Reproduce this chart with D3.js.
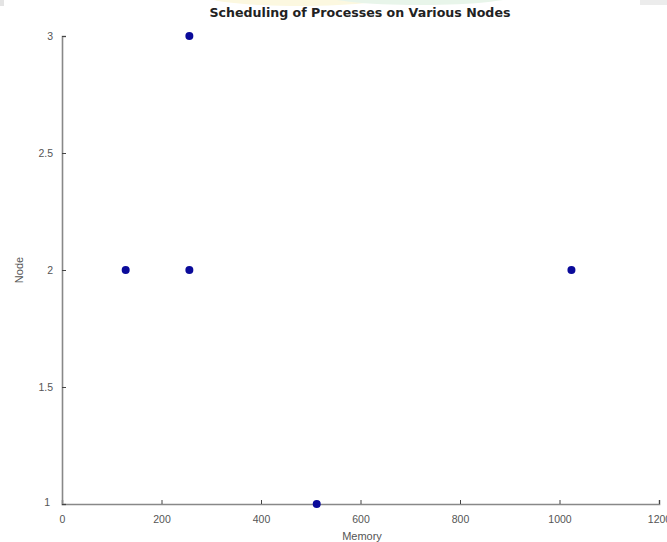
<!DOCTYPE html>
<html><head><meta charset="utf-8">
<script src="https://cdn.jsdelivr.net/npm/d3@7"></script>
<style>body{margin:0;background:#fff}svg{display:block}</style>
</head><body>
<script>
const memory = [128, 256, 256, 512, 1024];
const node = [2, 2, 3, 1, 2];
const xTicks = [0, 200, 400, 600, 800, 1000, 1200];
const yTicks = [1, 1.5, 2, 2.5, 3];

const W = 667, H = 542;
const m = {l: 62, r: 8, t: 36, b: 38};
const svg = d3.select("body").append("svg").attr("width", W).attr("height", H);

// faint background watermark band at the top edge
svg.append("ellipse").attr("cx", 300).attr("cy", -6).attr("rx", 100).attr("ry", 12).attr("fill", "#fcf8e0");
svg.append("ellipse").attr("cx", 420).attr("cy", -6).attr("rx", 100).attr("ry", 11).attr("fill", "#e8f5ea");
svg.append("rect").attr("x", 0).attr("y", 0).attr("width", 4).attr("height", 6).attr("fill", "#e4e4e4");
svg.append("rect").attr("x", 640).attr("y", 0).attr("width", 27).attr("height", 5).attr("fill", "#ececec");

const x = d3.scaleLinear().domain([0, 1200]).range([m.l, W - m.r]);
const y = d3.scaleLinear().domain([1, 3]).range([H - m.b, m.t]);

const fnt = "Liberation Sans, Arial, sans-serif";

const xa = svg.append("g").attr("transform", `translate(0,${H - m.b})`)
  .call(d3.axisBottom(x).tickValues(xTicks).tickSize(-4).tickPadding(12).tickFormat(d3.format("d")));
const ya = svg.append("g").attr("transform", `translate(${m.l},0)`)
  .call(d3.axisLeft(y).tickValues(yTicks).tickSize(-4).tickPadding(9).tickFormat(d => String(d)));
[xa, ya].forEach(a => {
  a.select(".domain").attr("stroke", "#888").attr("stroke-width", 1.6);
  a.selectAll(".tick line").attr("stroke", "#444");
  a.selectAll(".tick text").attr("fill", "#555").style("font-family", fnt).style("font-size", "10.5px");
});
ya.selectAll(".tick text").filter(d => d === 1).attr("dx", "-3px").attr("dy", "0.1em");

svg.selectAll("circle.pt").data(memory).join("circle").attr("class", "pt")
  .attr("cx", d => x(d)).attr("cy", (d, i) => y(node[i])).attr("r", 4)
  .attr("fill", "#0a0a9a");

svg.append("text").attr("x", 360).attr("y", 17).attr("text-anchor", "middle")
  .style("font-family", "DejaVu Sans, sans-serif").style("font-size", "12.6px").style("font-weight", "bold").attr("fill", "#222")
  .text("Scheduling of Processes on Various Nodes");
svg.append("text").attr("x", 362).attr("y", 540).attr("text-anchor", "middle")
  .style("font-family", fnt).style("font-size", "11px").attr("fill", "#555").text("Memory");
svg.append("text").attr("transform", "translate(23,270) rotate(-90)").attr("text-anchor", "middle")
  .style("font-family", fnt).style("font-size", "11px").attr("fill", "#555").text("Node");
</script>
</body></html>
